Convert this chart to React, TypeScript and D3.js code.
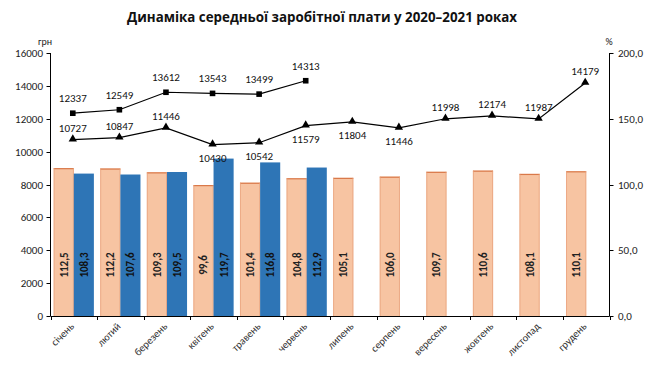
import React from "react";
import * as d3 from "d3";

const months = ["січень","лютий","березень","квітень","травень","червень","липень","серпень","вересень","жовтень","листопад","грудень"];
const idx2020 = [112.5,112.2,109.3,99.6,101.4,104.8,105.1,106.0,109.7,110.6,108.1,110.1];
const idx2021 = [108.3,107.6,109.5,119.7,116.8,112.9];
const wage2020 = [10727,10847,11446,10430,10542,11579,11804,11446,11998,12174,11987,14179];
const wage2021 = [12337,12549,13612,13543,13499,14313];
const leftTicks = [0,2000,4000,6000,8000,10000,12000,14000,16000];
const rightTicks = [0,50,100,150,200];
const title = "Динаміка середньої заробітної плати у 2020–2021 роках";

// label placement style for the 2020 line (below marker for these months)
const below2020 = new Set([3,4,5,6,7]);

const W = 663, H = 382;
const M = { left: 50.5, right: 609.5, top: 53, bottom: 316 };

export default function App() {
  const x = d3.scaleBand<string>().domain(months).range([M.left, M.right]).paddingInner(0).paddingOuter(0);
  const yL = d3.scaleLinear().domain([0, 16000]).range([M.bottom, M.top]);
  const yR = d3.scaleLinear().domain([0, 200]).range([M.bottom, M.top]);
  const bw = x.bandwidth();
  const pad = 3.2;
  const barW = (bw - 2 * pad) / 2;
  const cx = (i: number) => (x(months[i]) as number) + bw / 2 - 1;
  const line2020 = d3.line<number>().x((_, i) => cx(i)).y((d) => yL(d));
  const font = "Calibri, Carlito, 'Open Sans', 'Liberation Sans', sans-serif";
  const orange = "#F7C4A2";
  const orangeStroke = "#D9794A";
  const blue = "#2E75B6";

  return (
    <svg width={W} height={H} style={{ position: "absolute", left: 0, top: 0, background: "#fff" }} fontFamily={font}>
      <text x={322} y={22} textAnchor="middle" fontSize={14.5} fontWeight="bold" fill="#111" fontFamily="'Open Sans', sans-serif" textLength={390} lengthAdjust="spacingAndGlyphs">{title}</text>

      {/* bars */}
      {idx2020.map((v, i) => {
        const x0 = (x(months[i]) as number) + pad;
        return (
          <g key={"o" + i}>
            <rect x={x0} y={yR(v)} width={barW} height={M.bottom - yR(v)} fill={orange} />
            <line x1={x0} x2={x0 + barW} y1={yR(v) + 0.6} y2={yR(v) + 0.6} stroke={orangeStroke} strokeWidth={1.2} />
            <line x1={x0 + 0.4} x2={x0 + 0.4} y1={yR(v)} y2={M.bottom} stroke="#E8A27C" strokeWidth={0.8} />
            <line x1={x0 + barW - 0.4} x2={x0 + barW - 0.4} y1={yR(v)} y2={M.bottom} stroke="#E8A27C" strokeWidth={0.8} />
            <text transform={`translate(${x0 + barW / 2 + 4},265) rotate(-90)`} textAnchor="middle" fontSize={11} fontWeight="bold" fill="#222">{d3.format(".1f")(v).replace(".", ",")}</text>
          </g>
        );
      })}
      {idx2021.map((v, i) => {
        const x0 = (x(months[i]) as number) + pad + barW;
        return (
          <g key={"b" + i}>
            <rect x={x0} y={yR(v)} width={barW} height={M.bottom - yR(v)} fill={blue} />
            <text transform={`translate(${x0 + barW / 2 + 4},265) rotate(-90)`} textAnchor="middle" fontSize={11} fontWeight="bold" fill="#111">{d3.format(".1f")(v).replace(".", ",")}</text>
          </g>
        );
      })}

      {/* left axis */}
      <line x1={M.left} x2={M.left} y1={M.top} y2={M.bottom} stroke="#000" strokeWidth={1} />
      {leftTicks.map((t) => (
        <g key={"l" + t}>
          <line x1={M.left - 4} x2={M.left} y1={Math.round(yL(t)) + 0.5} y2={Math.round(yL(t)) + 0.5} stroke="#000" />
          <text x={43} y={yL(t) + 4} textAnchor="end" fontSize={11} fill="#222">{t}</text>
        </g>
      ))}
      <text x={45} y={45} textAnchor="middle" fontSize={10} fill="#222">грн</text>

      {/* right axis */}
      <line x1={M.right} x2={M.right} y1={M.top} y2={M.bottom} stroke="#000" strokeWidth={1} />
      {rightTicks.map((t) => (
        <g key={"r" + t}>
          <line x1={M.right} x2={M.right + 4} y1={Math.round(yR(t)) + 0.5} y2={Math.round(yR(t)) + 0.5} stroke="#000" />
          <text x={618} y={yR(t) + 4} textAnchor="start" fontSize={11} fill="#222">{d3.format(".1f")(t).replace(".", ",")}</text>
        </g>
      ))}
      <text x={609} y={45} textAnchor="middle" fontSize={10} fill="#222">%</text>

      {/* x axis */}
      <line x1={M.left} x2={M.right} y1={M.bottom + 0.5} y2={M.bottom + 0.5} stroke="#000" />
      {d3.range(months.length + 1).map((i) => {
        const xx = Math.round(M.left + i * bw) + 0.5;
        return <line key={"t" + i} x1={xx} x2={xx} y1={M.bottom} y2={M.bottom + 4} stroke="#000" />;
      })}
      {months.map((m, i) => (
        <text key={m} transform={`translate(${cx(i) + 2},327) rotate(-45)`} textAnchor="end" fontSize={10.5} fill="#333">{m}</text>
      ))}

      {/* lines */}
      <path d={line2020(wage2020) as string} fill="none" stroke="#000" strokeWidth={1.2} />
      <path d={line2020(wage2021) as string} fill="none" stroke="#000" strokeWidth={1.2} />
      {wage2021.map((v, i) => (
        <g key={"s" + i}>
          <rect x={cx(i) - 2.8} y={yL(v) - 2.8} width={5.6} height={5.6} fill="#000" />
          <text x={cx(i)} y={yL(v) - 11} textAnchor="middle" fontSize={11} fill="#111">{v}</text>
        </g>
      ))}
      {wage2020.map((v, i) => (
        <g key={"tr" + i}>
          <path d={d3.symbol(d3.symbolTriangle, 30)() as string} transform={`translate(${cx(i)},${yL(v) - 0.5})`} fill="#000" />
          <text x={cx(i)} y={below2020.has(i) ? yL(v) + 17 : yL(v) - 8} textAnchor="middle" fontSize={11} fill="#111">{v}</text>
        </g>
      ))}
    </svg>
  );
}
